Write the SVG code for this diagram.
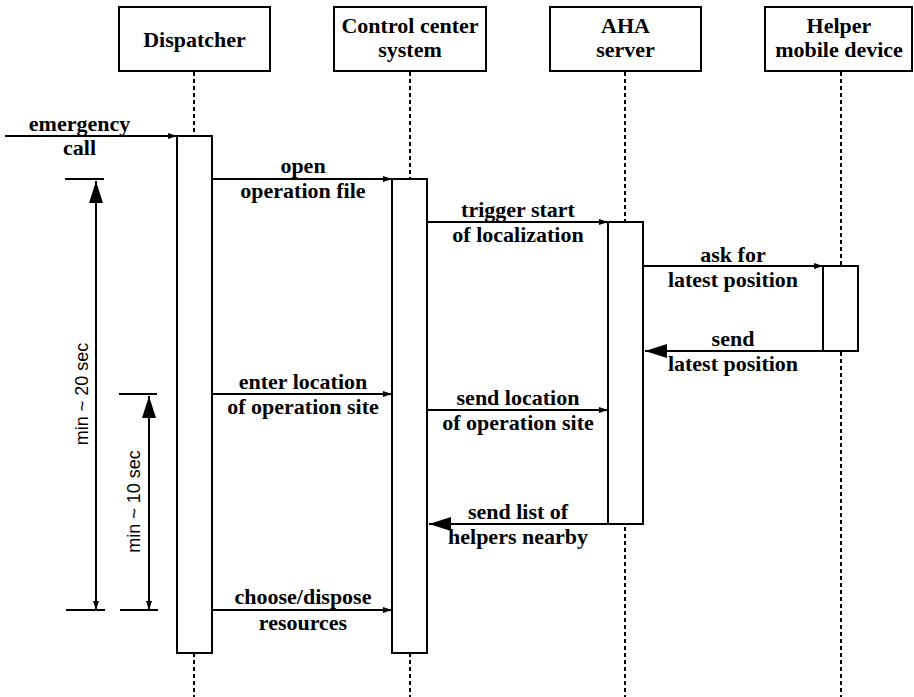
<svg xmlns="http://www.w3.org/2000/svg" width="914" height="697" viewBox="0 0 914 697">
  <style>
    .box { fill: #fff; stroke: #000; stroke-width: 2; }
    .life { stroke: #000; stroke-width: 2; stroke-dasharray: 4 3; fill: none; }
    .msg { stroke: #000; stroke-width: 2; fill: none; }
    .lbl { font-family: 'Liberation Serif', 'DejaVu Serif', serif; font-weight: 700; font-size: 22px; text-anchor: middle; fill: #000; }
    .dim { font-family: 'Liberation Sans', Arial, sans-serif; font-size: 18px; text-anchor: middle; fill: #000; }
  </style>
  <defs>
    <marker id="small" markerUnits="userSpaceOnUse" markerWidth="9" markerHeight="6" refX="9" refY="3" orient="auto-start-reverse">
      <path d="M0,0 L9,3 L0,6 z" fill="#000"/>
    </marker>
    <marker id="big" markerUnits="userSpaceOnUse" markerWidth="22" markerHeight="14" refX="22" refY="7" orient="auto-start-reverse">
      <path d="M0,0 L22,7 L0,14 z" fill="#000"/>
    </marker>
  </defs>
  <rect width="914" height="697" fill="#fff"/>

  <!-- lifelines -->
  <g id="lifelines">
    <line class="life" x1="194" y1="72" x2="194" y2="697"/>
    <line class="life" x1="410" y1="72" x2="410" y2="697"/>
    <line class="life" x1="625" y1="72" x2="625" y2="697"/>
    <line class="life" x1="841" y1="72" x2="841" y2="697"/>
  </g>

  <!-- participants -->
  <g id="dispatcher">
    <rect class="box" x="119" y="7" width="151" height="64"/>
    <text class="lbl" x="194.5" y="47">Dispatcher</text>
    <rect class="box" x="177" y="136" width="35" height="517"/>
  </g>
  <g id="control-center">
    <rect class="box" x="334" y="7" width="152" height="64"/>
    <text class="lbl" x="410" y="33">Control center</text>
    <text class="lbl" x="410" y="57">system</text>
    <rect class="box" x="392" y="179" width="35" height="474"/>
  </g>
  <g id="aha-server">
    <rect class="box" x="550" y="7" width="151" height="64"/>
    <text class="lbl" x="625.5" y="33">AHA</text>
    <text class="lbl" x="625.5" y="57">server</text>
    <rect class="box" x="608" y="222" width="35" height="302"/>
  </g>
  <g id="helper-device">
    <rect class="box" x="765" y="7" width="147" height="64"/>
    <text class="lbl" x="839" y="33">Helper</text>
    <text class="lbl" x="839" y="57">mobile device</text>
    <rect class="box" x="823" y="266" width="35" height="85"/>
  </g>

  <!-- messages -->
  <g id="connectors">
    <line class="msg" x1="5" y1="136" x2="177" y2="136" marker-end="url(#small)"/>
    <line class="msg" x1="212" y1="179" x2="392" y2="179" marker-end="url(#small)"/>
    <line class="msg" x1="427" y1="222" x2="608" y2="222" marker-end="url(#small)"/>
    <line class="msg" x1="643" y1="266" x2="823" y2="266" marker-end="url(#small)"/>
    <line class="msg" x1="823" y1="351" x2="645" y2="351" marker-end="url(#big)"/>
    <line class="msg" x1="212" y1="394" x2="392" y2="394" marker-end="url(#small)"/>
    <line class="msg" x1="427" y1="410" x2="608" y2="410" marker-end="url(#small)"/>
    <line class="msg" x1="608" y1="524" x2="429" y2="524" marker-end="url(#big)"/>
    <line class="msg" x1="212" y1="610" x2="392" y2="610" marker-end="url(#small)"/>
  </g>

  <!-- message labels -->
  <g id="labels">
    <text class="lbl" x="79.5" y="131">emergency</text>
    <text class="lbl" x="79.5" y="155">call</text>
    <text class="lbl" x="303" y="173">open</text>
    <text class="lbl" x="303" y="198">operation file</text>
    <text class="lbl" x="518" y="217">trigger start</text>
    <text class="lbl" x="518" y="242">of localization</text>
    <text class="lbl" x="733" y="262">ask for</text>
    <text class="lbl" x="733" y="287">latest position</text>
    <text class="lbl" x="733" y="346">send</text>
    <text class="lbl" x="733" y="371">latest position</text>
    <text class="lbl" x="303" y="389">enter location</text>
    <text class="lbl" x="303" y="414">of operation site</text>
    <text class="lbl" x="518" y="405">send location</text>
    <text class="lbl" x="518" y="430">of operation site</text>
    <text class="lbl" x="518" y="519">send list of</text>
    <text class="lbl" x="518" y="544">helpers nearby</text>
    <text class="lbl" x="303" y="604">choose/dispose</text>
    <text class="lbl" x="303" y="630">resources</text>
  </g>

  <!-- time spans -->
  <g id="span-20">
    <line class="msg" x1="65" y1="179" x2="104" y2="179"/>
    <line class="msg" x1="66" y1="610" x2="105" y2="610"/>
    <line class="msg" x1="96" y1="181" x2="96" y2="610" marker-start="url(#big)" marker-end="url(#small)"/>
    <text class="dim" transform="translate(88,394) rotate(-90)">min ~ 20 sec</text>
  </g>
  <g id="span-10">
    <line class="msg" x1="119" y1="394" x2="157" y2="394"/>
    <line class="msg" x1="120" y1="610" x2="158" y2="610"/>
    <line class="msg" x1="149" y1="396" x2="149" y2="610" marker-start="url(#big)" marker-end="url(#small)"/>
    <text class="dim" transform="translate(140,501.5) rotate(-90)">min ~ 10 sec</text>
  </g>
</svg>
